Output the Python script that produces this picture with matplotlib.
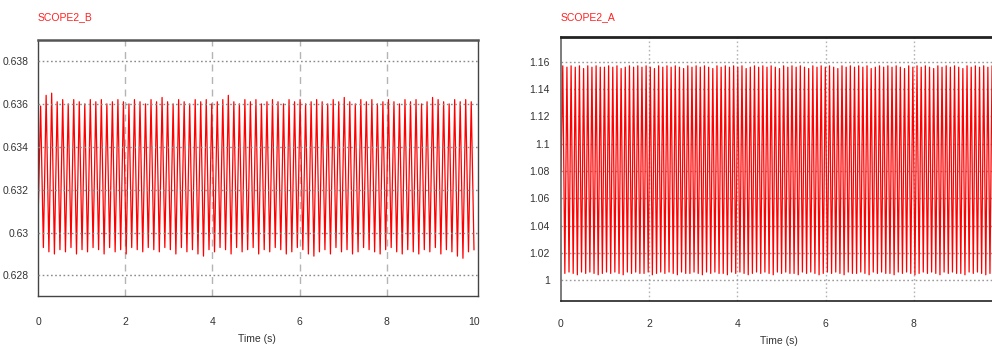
import numpy as np
import matplotlib
matplotlib.use("Agg")
import matplotlib.pyplot as plt

# ---------------- data ----------------
b_title = "SCOPE2_B"
a_title = "SCOPE2_A"
x_label = "Time (s)"

b_xticks = [0, 2, 4, 6, 8, 10]
b_yticks = [0.628, 0.630, 0.632, 0.634, 0.636, 0.638]
b_ytick_labels = ["0.628", "0.63", "0.632", "0.634", "0.636", "0.638"]
a_xticks = [0, 2, 4, 6, 8]
a_yticks = [1.00, 1.02, 1.04, 1.06, 1.08, 1.10, 1.12, 1.14, 1.16]
a_ytick_labels = ["1", "1.02", "1.04", "1.06", "1.08", "1.1", "1.12", "1.14", "1.16"]

# SCOPE2_B : oscillation period and per-cycle maxima / minima
b_start = 0.6305
b_period = 0.1266
b_first_peak = 0.06
b_peaks = [0.6359, 0.6364, 0.6365, 0.6361, 0.6362, 0.6360, 0.6362, 0.6361, 0.6360, 0.6362,
           0.6361, 0.6362, 0.6360, 0.6361, 0.6362, 0.6361, 0.6360, 0.6362, 0.6361, 0.6360,
           0.6362, 0.6361, 0.6363, 0.6361, 0.6360, 0.6362, 0.6361, 0.6360, 0.6362, 0.6361,
           0.6362, 0.6360, 0.6361, 0.6362, 0.6364, 0.6361, 0.6360, 0.6362, 0.6361, 0.6362,
           0.6360, 0.6361, 0.6362, 0.6361, 0.6360, 0.6362, 0.6361, 0.6362, 0.6360, 0.6361,
           0.6362, 0.6361, 0.6360, 0.6362, 0.6361, 0.6363, 0.6361, 0.6360, 0.6362, 0.6361,
           0.6362, 0.6360, 0.6361, 0.6362, 0.6361, 0.6360, 0.6362, 0.6361, 0.6362, 0.6360,
           0.6361, 0.6363, 0.6362, 0.6361, 0.6360, 0.6362, 0.6361, 0.6362, 0.6361]
b_troughs = [0.6293, 0.6291, 0.6290, 0.6292, 0.6291, 0.6293, 0.6290, 0.6292, 0.6291, 0.6293,
             0.6292, 0.6290, 0.6293, 0.6291, 0.6292, 0.6290, 0.6293, 0.6292, 0.6291, 0.6293,
             0.6292, 0.6291, 0.6293, 0.6292, 0.6290, 0.6293, 0.6291, 0.6292, 0.6290, 0.6289,
             0.6292, 0.6291, 0.6293, 0.6292, 0.6290, 0.6293, 0.6291, 0.6292, 0.6293, 0.6290,
             0.6292, 0.6291, 0.6293, 0.6292, 0.6290, 0.6291, 0.6293, 0.6292, 0.6290, 0.6289,
             0.6291, 0.6292, 0.6290, 0.6293, 0.6291, 0.6292, 0.6290, 0.6291, 0.6293, 0.6292,
             0.6291, 0.6290, 0.6292, 0.6293, 0.6291, 0.6290, 0.6292, 0.6291, 0.6290, 0.6292,
             0.6291, 0.6293, 0.6290, 0.6292, 0.6291, 0.6289, 0.6288, 0.6291, 0.6292]

# SCOPE2_A : oscillation period and per-cycle maxima / minima
a_start = 1.080
a_period = 0.0945
a_first_peak = 0.04
a_peaks = [1.157, 1.156, 1.157, 1.156, 1.157, 1.155, 1.157, 1.156, 1.157, 1.156,
           1.156, 1.157, 1.156, 1.157, 1.155, 1.156, 1.157, 1.156, 1.157, 1.156,
           1.157, 1.156, 1.155, 1.157, 1.156, 1.157, 1.156, 1.157, 1.156, 1.155,
           1.157, 1.156, 1.157, 1.156, 1.157, 1.156, 1.155, 1.157, 1.156, 1.157,
           1.156, 1.157, 1.156, 1.157, 1.155, 1.156, 1.157, 1.156, 1.157, 1.156,
           1.157, 1.156, 1.155, 1.157, 1.156, 1.157, 1.156, 1.157, 1.156, 1.155,
           1.157, 1.156, 1.157, 1.156, 1.157, 1.156, 1.155, 1.157, 1.156, 1.157,
           1.156, 1.157, 1.156, 1.157, 1.155, 1.156, 1.157, 1.156, 1.157, 1.156,
           1.157, 1.156, 1.155, 1.157, 1.156, 1.157, 1.156, 1.157, 1.156, 1.155,
           1.157, 1.156, 1.157, 1.156, 1.157, 1.156, 1.155, 1.157, 1.156, 1.157,
           1.156, 1.157, 1.156, 1.157, 1.156, 1.157]
a_troughs = [1.005, 1.006, 1.005, 1.004, 1.006, 1.005, 1.006, 1.005, 1.004, 1.005,
             1.006, 1.005, 1.006, 1.005, 1.004, 1.006, 1.005, 1.006, 1.005, 1.005,
             1.006, 1.004, 1.005, 1.006, 1.005, 1.006, 1.005, 1.004, 1.006, 1.005,
             1.005, 1.006, 1.005, 1.004, 1.006, 1.005, 1.006, 1.005, 1.005, 1.004,
             1.006, 1.005, 1.006, 1.005, 1.004, 1.005, 1.006, 1.005, 1.006, 1.005,
             1.004, 1.006, 1.005, 1.006, 1.005, 1.005, 1.004, 1.006, 1.005, 1.006,
             1.005, 1.004, 1.005, 1.006, 1.005, 1.006, 1.005, 1.004, 1.006, 1.005,
             1.005, 1.006, 1.005, 1.004, 1.006, 1.005, 1.006, 1.005, 1.005, 1.004,
             1.006, 1.005, 1.006, 1.005, 1.004, 1.005, 1.006, 1.005, 1.006, 1.005,
             1.004, 1.006, 1.005, 1.006, 1.005, 1.005, 1.004, 1.006, 1.005, 1.006,
             1.005, 1.004, 1.005, 1.006, 1.005, 1.006]


def zigzag(start, first_peak, period, peaks, troughs):
    t = [0.0]
    v = [start]
    for k, (p, q) in enumerate(zip(peaks, troughs)):
        t += [first_peak + k * period, first_peak + (k + 0.5) * period]
        v += [p, q]
    return np.array(t), np.array(v)


FONT = ["Liberation Sans Narrow", "Liberation Sans", "DejaVu Sans"]
plt.rcParams["font.family"] = FONT

W, H = 992, 349
fig = plt.figure(figsize=(W / 100, H / 100), dpi=100)


def px_axes(left, top, right, bottom):
    return fig.add_axes([left / W, 1 - bottom / H, (right - left) / W, (bottom - top) / H])


# ---------------- SCOPE2_B ----------------
axb = px_axes(38, 40, 478, 296)
tb, vb = zigzag(b_start, b_first_peak, b_period, b_peaks, b_troughs)
axb.plot(tb, vb, color="#ff0000", lw=0.9, zorder=2)
axb.set_xlim(0, 10.09)
axb.set_ylim(0.62704, 0.63898)
axb.set_xticks(b_xticks)
axb.set_xticklabels([str(v) for v in b_xticks])
axb.set_yticks(b_yticks)
axb.set_yticklabels(b_ytick_labels)
for x in b_xticks[1:-1]:
    axb.axvline(x, color="#b4b4b4", lw=1.0, ls=(0, (5, 4)), zorder=1)
for y in b_yticks:
    axb.axhline(y, color="#8a8a8a", lw=1.0, ls=(0, (1.2, 1.8)), zorder=3)
for s in axb.spines.values():
    s.set_color("#444444")
    s.set_linewidth(1.0)
axb.spines["top"].set_linewidth(1.8)
axb.spines["top"].set_color("#555555")
axb.tick_params(length=0, labelsize=7.5, labelcolor="#333333")
axb.tick_params(axis="x", pad=15)
axb.tick_params(axis="y", pad=7)
fig.text(38 / W, 1 - 17 / H, b_title, color="#ff2020", fontsize=7.5, va="center", ha="left")
fig.text(257 / W, 1 - 339 / H, x_label, color="#333333", fontsize=7.5, va="center", ha="center")

# ---------------- SCOPE2_A ----------------
axa = px_axes(561, 37, 1006, 301)
ta, va = zigzag(a_start, a_first_peak, a_period, a_peaks, a_troughs)
axa.plot(ta, va, color="#ff0000", lw=0.9, zorder=2)
axa.set_xlim(0, 10.09)
axa.set_ylim(0.9848, 1.1781)
axa.set_xticks(a_xticks)
axa.set_xticklabels([str(v) for v in a_xticks])
axa.set_yticks(a_yticks)
axa.set_yticklabels(a_ytick_labels)
for x in a_xticks[1:]:
    axa.axvline(x, color="#b4b4b4", lw=1.0, ls=(0, (1.2, 1.8)), zorder=1)
for y in a_yticks:
    axa.axhline(y, color="#9a9a9a", lw=1.0, ls=(0, (1.2, 1.8)), zorder=1)
for s in axa.spines.values():
    s.set_color("#222222")
    s.set_linewidth(1.2)
axa.spines["left"].set_color("#666666")
axa.spines["top"].set_linewidth(2.0)
axa.tick_params(length=0, labelsize=7.5, labelcolor="#333333")
axa.tick_params(axis="x", pad=13)
axa.tick_params(axis="y", pad=8)
fig.text(561 / W, 1 - 17 / H, a_title, color="#ff2020", fontsize=7.5, va="center", ha="left")
fig.text(779 / W, 1 - 341 / H, x_label, color="#333333", fontsize=7.5, va="center", ha="center")

fig.savefig("out.png", dpi=100)
